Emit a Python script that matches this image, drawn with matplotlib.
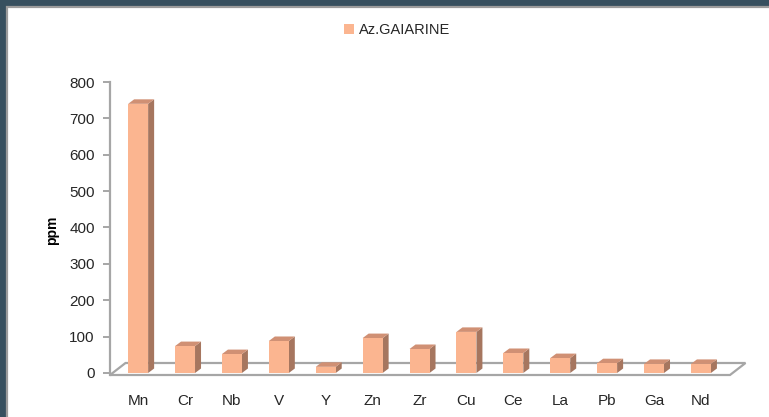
import matplotlib
matplotlib.use('Agg')
import matplotlib.pyplot as plt
from matplotlib.patches import Polygon, Rectangle, Patch
import numpy as np

# ---- data ----
elements = ['Mn', 'Cr', 'Nb', 'V', 'Y', 'Zn', 'Zr', 'Cu', 'Ce', 'La', 'Pb', 'Ga', 'Nd']
ppm = [740, 74, 52, 88, 17, 96, 66, 113, 55, 41, 27, 25, 25]
series_name = 'Az.GAIARINE'
yticks = [0, 100, 200, 300, 400, 500, 600, 700, 800]
ylabel = 'ppm'

# ---- style ----
plt.rcParams['font.family'] = ['Liberation Sans', 'DejaVu Sans']
FRONT = '#FBB590'
TOP = '#D09074'
SIDE = '#A6765F'
GRAY = '#A6A6A6'
TXT = '#262626'

W, H = 769, 417
fig = plt.figure(figsize=(W / 100, H / 100), dpi=100, facecolor='#37505F')
fig.patches.append(Rectangle((7 / W, -0.1), 1.1, 1.1 - 7 / H, transform=fig.transFigure,
                             facecolor='white', edgecolor='#9C9C9C', linewidth=1.6, zorder=-5))

ax_l, ax_r, ax_b, ax_t = 110, 730, 375, 82  # pixel geometry
ax = fig.add_axes([ax_l / W, (H - ax_b) / H, (ax_r - ax_l) / W, (ax_b - ax_t) / H])
ax.set_facecolor('none')
xlim = (-0.6, 12.62)
ylim = (-5.5, 800)
ax.set_xlim(*xlim)
ax.set_ylim(*ylim)

# data units per pixel
ux = (xlim[1] - xlim[0]) / (ax_r - ax_l)
uy = (ylim[1] - ylim[0]) / (ax_b - ax_t)

x = np.arange(len(elements))
bw = 0.426
dx, dy = 6 * ux, 4.5 * uy

# floor
fdx, fdy = 15.5 * ux, 12 * uy
y0 = ylim[0]
floor = Polygon([(xlim[0], y0), (xlim[1], y0), (xlim[1] + fdx, y0 + fdy), (xlim[0] + fdx, y0 + fdy)],
                closed=True, facecolor='white', edgecolor=GRAY, linewidth=1.6, clip_on=False, zorder=1)
ax.add_patch(floor)

# bars
bars = ax.bar(x, ppm, width=bw, color=FRONT, edgecolor='none', zorder=4, label=series_name)
for xi, v in zip(x, ppm):
    r = xi + bw / 2
    l = xi - bw / 2
    side = Polygon([(r, 0), (r + dx, dy), (r + dx, v + dy), (r, v)], closed=True,
                   facecolor=SIDE, edgecolor='none', zorder=3, clip_on=False)
    top = Polygon([(l, v), (r, v), (r + dx, v + dy), (l + dx, v + dy)], closed=True,
                  facecolor=TOP, edgecolor='none', zorder=3, clip_on=False)
    ax.add_patch(side)
    ax.add_patch(top)

# axes styling
for s in ['top', 'right', 'bottom']:
    ax.spines[s].set_visible(False)
ax.spines['left'].set_color(GRAY)
ax.spines['left'].set_linewidth(1.6)
ax.set_yticks(yticks)
ax.set_yticklabels([str(t) for t in yticks])
ax.tick_params(axis='y', colors=GRAY, length=5, width=1.4, pad=6, labelsize=11, labelcolor=TXT)
ax.set_xticks(x)
ax.set_xticklabels(elements)
ax.tick_params(axis='x', length=0, pad=14, labelsize=11, labelcolor=TXT)

fig.text(52 / W, 1 - 230 / H, ylabel, rotation=90, ha='center', va='center',
         fontsize=10, fontweight='bold', color='black')

fig.legend(handles=[Patch(facecolor=FRONT, edgecolor='none')], labels=[series_name],
           loc='center', bbox_to_anchor=(397 / W, 1 - 30 / H), frameon=False, fontsize=10.5,
           handlelength=0.7, handleheight=0.7, handletextpad=0.3, labelcolor=TXT)

fig.savefig('out.png', dpi=100, facecolor=fig.get_facecolor())
